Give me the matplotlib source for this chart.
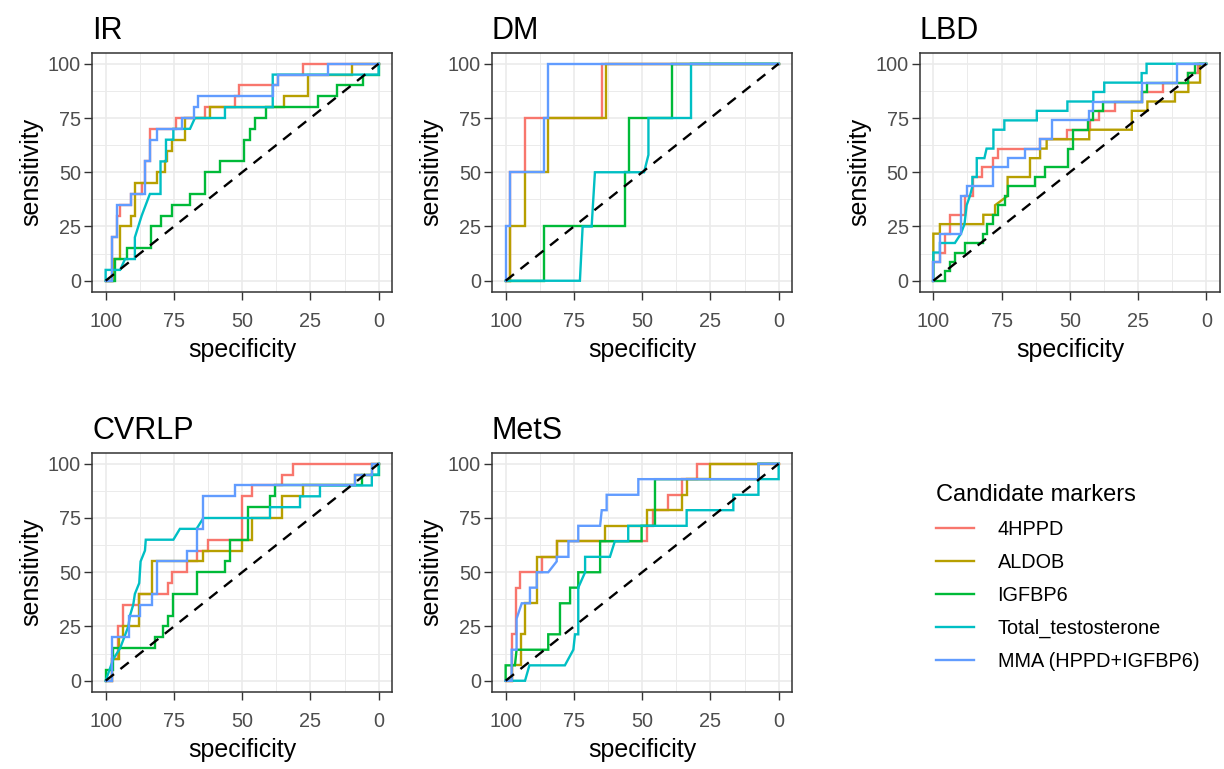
import matplotlib
matplotlib.use("Agg")
import matplotlib.pyplot as plt
from matplotlib.lines import Line2D

plt.rcParams['font.family'] = ['Liberation Sans', 'DejaVu Sans']

# ---------------- data: ROC paths as (specificity, sensitivity) ----------------
markers = ["4HPPD", "ALDOB", "IGFBP6", "Total_testosterone", "MMA (HPPD+IGFBP6)"]
colors = ["#F8766D", "#B79F00", "#00BA38", "#00BFC4", "#619CFF"]
panels = ["IR", "DM", "LBD", "CVRLP", "MetS"]
tick_values = [0, 25, 50, 75, 100]

IR_4HPPD = [(100,0),(97.8,0),(97.8,20),(96,20),(96,30),(94.7,30),(94.7,35),(90.8,35),(90.8,40),(86.8,40),(86.8,45),(85.6,45),(85.6,55),(83.8,55),(83.8,70),(74.4,70),(74.4,75),(63.6,75),(63.6,80),(52.6,80),(52.6,85),(51.2,85),(51.2,90),(36.8,90),(36.8,95),(27.6,95),(27.6,100),(0,100)]
IR_ALDOB = [(100,0),(97.2,0),(97.2,10),(94.7,10),(94.7,25),(90.8,25),(90.8,30),(89.3,30),(89.3,45),(81.3,45),(81.3,50),(78.3,50),(78.3,55),(77.4,55),(77.4,60),(75.8,60),(75.8,65),(70.9,65),(70.9,75),(61.8,75),(61.8,80),(34.6,80),(34.6,85),(25.8,85),(25.8,95),(9.6,95),(9.6,100),(0,100)]
IR_IGFBP6 = [(100,0),(96.6,0),(96.6,10),(92.3,10),(92.3,15),(83.5,15),(83.5,25),(79.9,25),(79.9,30),(75.8,30),(75.8,35),(69.1,35),(69.1,40),(63.6,40),(63.6,50),(58.1,50),(58.1,55),(49.3,55),(49.3,65),(47.1,65),(47.1,70),(45.3,70),(45.3,75),(41.3,75),(41.3,80),(22.1,80),(22.1,85),(15.1,85),(15.1,90),(5.6,90),(5.6,95),(0,95),(0,100)]
IR_TT = [(100,0),(100,5),(94.7,5),(92.9,10),(89.3,10),(89.3,20),(86.8,30),(83.8,40),(79.9,40),(79.9,55),(77.9,55),(77.9,65),(75.2,65),(75.2,70),(69.1,70),(67.3,75),(56.3,75),(56.3,80),(38.8,80),(38.8,95),(0,95),(0,100)]
IR_MMA = [(100,0),(97.8,0),(97.8,20),(96.0,20),(96.0,35),(90.8,35),(90.8,40),(85.6,40),(85.6,55),(83.8,55),(83.8,65),(81.3,65),(81.3,70),(72.2,70),(72.2,75),(67.6,75),(67.6,80),(66.1,80),(66.1,85),(38.8,85),(38.8,90),(36.8,90),(36.8,95),(18.4,95),(18.4,100),(0,100)]

DM_4HPPD = [(100,0),(98.4,0),(98.4,50),(92.9,50),(92.9,75),(64.8,75),(64.8,100),(0,100)]
DM_ALDOB = [(100,0),(98.4,0),(98.4,25),(92.9,25),(92.9,50),(84.4,50),(84.4,75),(63.2,75),(63.2,100),(0,100)]
DM_IGFBP6 = [(100,0),(86.0,0),(86.0,25),(56.3,25),(56.3,50),(54.7,50),(54.7,75),(39.2,75),(39.2,100),(0,100)]
DM_TT = [(100,0),(72.8,0),(71.8,25),(68.5,25),(67.3,50),(49.3,50),(47.7,58),(47.7,75),(32.1,75),(32.1,100),(0,100)]
DM_MMA = [(100,0),(100,25),(98.4,25),(98.4,50),(86.0,50),(86.0,75),(84.4,75),(84.4,100),(0,100)]

LBD_4HPPD = [(100,0),(100,8.7),(97.6,8.7),(97.6,13.0),(95.7,13.0),(95.7,21.7),(93.9,21.7),(93.9,30.4),(88.4,30.4),(88.4,39.1),(85.3,39.1),(85.3,47.8),(82.1,47.8),(82.1,52.2),(78.0,52.2),(78.0,56.5),(76.4,56.5),(76.4,60.9),(60.9,60.9),(60.9,65.2),(50.9,65.2),(50.9,69.6),(42.6,69.6),(42.6,73.9),(39.2,73.9),(39.2,78.3),(33.4,78.3),(33.4,82.6),(23.7,82.6),(23.7,87.0),(15.8,87.0),(15.8,91.3),(6.6,91.3),(6.6,95.7),(2.9,95.7),(2.9,100),(0,100)]
LBD_ALDOB = [(100,0),(100,21.7),(97.6,21.7),(97.6,26.1),(81.7,26.1),(81.7,30.4),(77.4,30.4),(77.4,34.8),(72.8,39.1),(72.8,47.8),(64.6,47.8),(64.6,56.5),(60.9,56.5),(60.9,60.9),(58.5,60.9),(58.5,65.2),(42.9,65.2),(42.9,69.6),(27.3,69.6),(27.3,78.3),(21.6,78.3),(21.6,82.6),(11.5,82.6),(11.5,87.0),(6.6,87.0),(6.6,91.3),(2.3,91.3),(2.3,100),(0,100)]
LBD_IGFBP6 = [(100,0),(95.7,0),(95.7,4.3),(93.9,4.3),(93.9,8.7),(92.1,8.7),(92.1,13.0),(88.4,13.0),(88.4,17.4),(81.7,17.4),(81.7,21.7),(80.5,21.7),(80.5,26.1),(78.0,26.1),(78.0,30.4),(76.4,30.4),(76.4,34.8),(73.8,34.8),(73.8,39.1),(72.8,39.1),(72.8,43.5),(62.8,43.5),(62.8,47.8),(59.1,47.8),(59.1,52.2),(50.7,52.2),(50.7,60.9),(49.0,60.9),(49.0,69.6),(43.2,69.6),(43.2,73.9),(41.4,73.9),(41.4,78.3),(37.7,78.3),(37.7,82.6),(23.7,82.6),(23.7,87.0),(21.6,87.0),(21.6,91.3),(6.6,91.3),(6.6,95.7),(4.1,95.7),(4.1,100),(0,100)]
LBD_TT = [(100,0),(100,13.0),(97.6,13.0),(97.6,17.4),(92.1,17.4),(89.9,21.7),(88.6,26.1),(87.8,34.8),(86.6,39.1),(85.7,43.5),(85.7,47.8),(84.1,47.8),(84.1,56.5),(81.3,56.5),(80.5,60.9),(78.0,60.9),(78.0,69.6),(74.0,69.6),(74.0,73.9),(62.1,73.9),(62.1,78.3),(50.9,78.3),(50.9,82.6),(41.4,82.6),(41.4,87.0),(37.4,87.0),(37.4,91.3),(23.7,91.3),(23.7,95.7),(21.9,95.7),(21.9,100),(0,100)]
LBD_MMA = [(100,0),(100,8.7),(97.6,8.7),(97.6,21.7),(89.9,21.7),(89.9,39.1),(87.8,39.1),(87.8,43.5),(78.0,43.5),(78.0,52.2),(72.8,52.2),(72.8,56.5),(66.4,56.5),(66.4,60.9),(60.9,60.9),(60.9,65.2),(56.7,65.2),(56.7,73.9),(42.9,73.9),(42.9,78.3),(41.4,78.3),(41.4,82.6),(23.7,82.6),(23.7,91.3),(10.6,91.3),(10.6,100),(0,100)]

CVRLP_4HPPD = [(100,0),(97.8,0),(97.8,10),(95.4,10),(95.4,25),(93.8,25),(93.8,35),(87.7,35),(87.7,40),(77.0,40),(77.0,45),(75.8,45),(75.8,50),(70.3,50),(70.3,55),(66.7,55),(66.7,60),(62.4,60),(62.4,65),(50.2,65),(50.2,85),(46.5,85),(46.5,90),(35.5,90),(35.5,95),(31.3,95),(31.3,100),(0,100)]
CVRLP_ALDOB = [(100,0),(97.8,0),(97.8,10),(95.1,10),(95.1,20),(93.8,20),(93.8,25),(87.7,25),(87.7,40),(83.2,40),(83.2,55),(64.2,55),(64.2,60),(50.2,60),(50.2,65),(46.5,65),(46.5,75),(35.5,75),(35.5,85),(27.6,85),(27.6,90),(8.7,90),(8.7,95),(2.5,95),(2.5,100),(0,100)]
CVRLP_IGFBP6 = [(100,0),(100,5),(97.2,5),(97.2,15),(81.9,15),(81.9,20),(78.9,20),(78.9,25),(77.0,25),(77.0,30),(75.2,30),(75.2,40),(66.7,40),(66.7,50),(56.3,50),(56.3,55),(54.5,55),(54.5,65),(47.7,65),(47.7,80),(39.8,80),(39.8,85),(37.9,85),(37.9,90),(6.2,90),(6.2,95),(0,95),(0,100)]
CVRLP_TT = [(100,0),(97.2,10),(94.7,15),(91.7,25),(91.1,30),(89.9,35),(89.3,40),(87.7,45),(87.2,55),(85.6,60),(85.3,65),(75.2,65),(72.8,70),(66.7,70),(64.2,75),(39.8,75),(39.8,80),(28.8,80),(28.8,85),(21.5,85),(21.5,90),(2.5,90),(2.5,95),(0,95),(0,100)]
CVRLP_MMA = [(100,0),(97.8,0),(97.8,20),(91.3,20),(91.3,30),(87.4,30),(87.4,35),(83.2,35),(83.2,40),(81.3,40),(81.3,55),(70.3,55),(70.3,60),(66.7,60),(66.7,70),(64.2,70),(64.2,85),(52.6,85),(52.6,90),(8.7,90),(8.7,95),(2.5,95),(2.5,100),(0,100)]

MetS_4HPPD = [(100,0),(97.8,0),(97.8,21.4),(96.3,21.4),(96.3,42.9),(94.6,42.9),(94.6,50),(86.8,50),(86.8,57.1),(81.3,57.1),(81.3,64.3),(48.3,64.3),(48.3,71.4),(45.9,71.4),(45.9,78.6),(40.4,78.6),(40.4,85.7),(35.5,85.7),(35.5,92.9),(30.0,92.9),(30.0,100),(0,100)]
MetS_ALDOB = [(100,0),(97.8,0),(97.8,7.1),(94.5,7.1),(94.5,21.4),(92.9,21.4),(92.9,35.7),(88.6,35.7),(88.6,57.1),(81.3,57.1),(81.3,64.3),(63.6,64.3),(63.6,71.4),(48.3,71.4),(48.3,78.6),(35.5,78.6),(35.5,85.7),(33.7,85.7),(33.7,92.9),(25.1,92.9),(25.1,100),(0,100)]
MetS_IGFBP6 = [(100,0),(100,7.1),(96.6,7.1),(96.0,14.3),(84.4,14.3),(84.4,21.4),(80.1,21.4),(80.1,35.7),(76.4,35.7),(76.4,42.9),(73.4,42.9),(73.4,50),(65.4,50),(65.4,64.3),(50.2,64.3),(50.2,71.4),(45.3,71.4),(45.3,92.9),(7.4,92.9),(7.4,100),(0,100)]
MetS_TT = [(100,0),(92.9,0),(91.3,7.1),(78.3,7.1),(75.2,14.3),(74.6,21.4),(73.4,21.4),(73.4,42.9),(70.9,50),(70.9,57.1),(61.8,57.1),(60.0,64.3),(55.1,64.3),(55.1,71.4),(33.7,71.4),(33.7,78.6),(16.6,78.6),(16.6,85.7),(7.4,85.7),(7.4,92.9),(0,92.9),(0,100)]
MetS_MMA = [(100,0),(97.8,0),(97.8,14.3),(96.0,14.3),(96.0,28.6),(94.1,35.7),(91.1,35.7),(91.1,42.9),(88.6,42.9),(88.6,50),(84.4,50),(81.3,55),(81.3,57.1),(77.0,57.1),(77.0,64.3),(73.4,64.3),(73.4,71.4),(65.4,71.4),(64.8,78.6),(63.0,78.6),(63.0,85.7),(51.4,85.7),(51.4,92.9),(7.4,92.9),(7.4,100),(0,100)]

curves = {
    "IR": [IR_4HPPD, IR_ALDOB, IR_IGFBP6, IR_TT, IR_MMA],
    "DM": [DM_4HPPD, DM_ALDOB, DM_IGFBP6, DM_TT, DM_MMA],
    "LBD": [LBD_4HPPD, LBD_ALDOB, LBD_IGFBP6, LBD_TT, LBD_MMA],
    "CVRLP": [CVRLP_4HPPD, CVRLP_ALDOB, CVRLP_IGFBP6, CVRLP_TT, CVRLP_MMA],
    "MetS": [MetS_4HPPD, MetS_ALDOB, MetS_IGFBP6, MetS_TT, MetS_MMA],
}

# ---------------- layout ----------------
W, H = 1224, 769
fig = plt.figure(figsize=(W / 100, H / 100), dpi=100)

def rect(left_px, top_px, w_px=300.3, h_px=238.7):
    return [left_px / W, 1 - (top_px + h_px) / H, w_px / W, h_px / H]

positions = {
    "IR": rect(92.0, 52.9),
    "DM": rect(492.0, 52.9),
    "LBD": rect(919.7, 52.9),
    "CVRLP": rect(92.0, 452.9),
    "MetS": rect(492.0, 452.9),
}

GRID = "#EBEBEB"
DARK = "#333333"
TICKLAB = "#4D4D4D"

for name in panels:
    ax = fig.add_axes(positions[name])
    ax.set_xlim(105, -5)
    ax.set_ylim(-5, 105)
    ax.set_xticks(tick_values[::-1])
    ax.set_yticks(tick_values)
    ax.set_xticks([12.5, 37.5, 62.5, 87.5], minor=True)
    ax.set_yticks([12.5, 37.5, 62.5, 87.5], minor=True)
    ax.grid(True, which="major", color=GRID, lw=1.2, zorder=0)
    ax.grid(True, which="minor", color=GRID, lw=0.7, zorder=0)
    ax.set_axisbelow(True)
    ax.tick_params(which="minor", length=0)
    ax.tick_params(which="major", length=5.5, width=1.0, color=DARK,
                   labelsize=14.3, labelcolor=TICKLAB)
    ax.tick_params(axis="x", pad=9)
    ax.tick_params(axis="y", pad=2.5)
    for s in ax.spines.values():
        s.set_color(DARK)
        s.set_linewidth(1.1)
    for path, col in zip(curves[name], colors):
        xs = [p[0] for p in path]
        ys = [p[1] for p in path]
        ax.plot(xs, ys, color=col, lw=1.7, zorder=2, solid_joinstyle="miter")
    ax.plot([100, 0], [0, 100], color="black", lw=1.7, ls=(0, (4.5, 3.5)), zorder=3)
    ax.set_xlabel("specificity", fontsize=18, labelpad=5)
    ax.set_ylabel("sensitivity", fontsize=18, labelpad=3)
    ax.set_title(name, loc="left", fontsize=22, pad=10)

handles = [Line2D([0], [0], color=c, lw=1.7) for c in colors]
leg = fig.legend(handles, markers, title="Candidate markers", loc="upper left",
                 bbox_to_anchor=(928 / W, 1 - 476 / H), frameon=False,
                 fontsize=14.3, title_fontsize=17, handlelength=1.9,
                 labelspacing=0.70, handletextpad=1.2, borderaxespad=0)
leg._legend_box.align = "left"

fig.savefig("out.png", dpi=100)
